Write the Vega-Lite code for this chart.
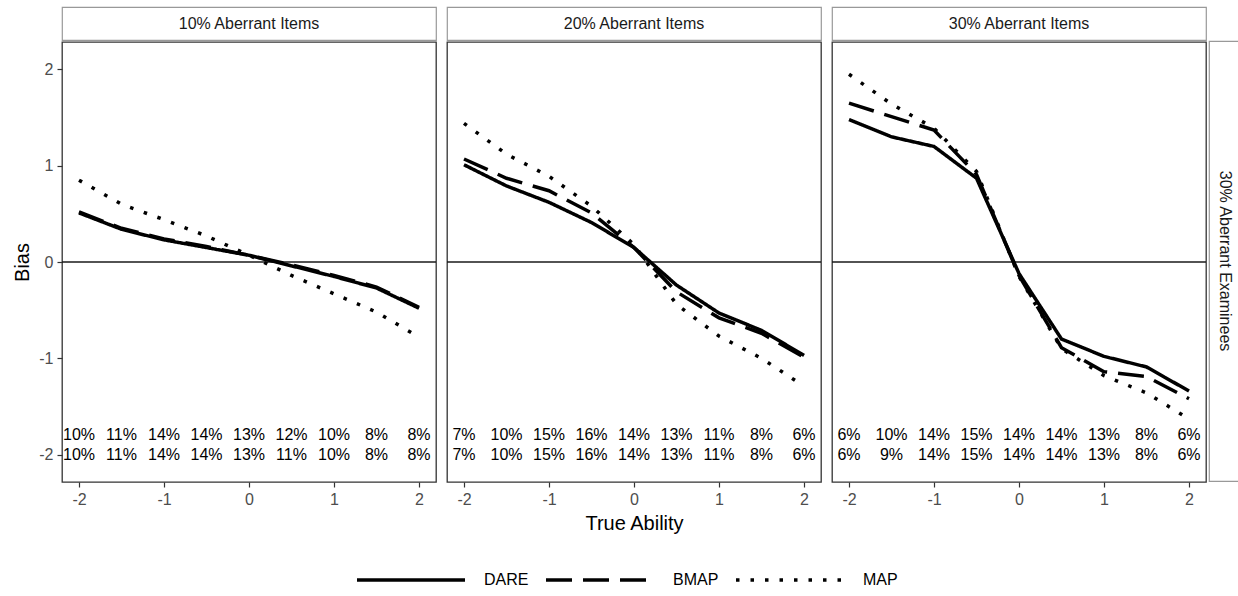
{
  "$schema": "https://vega.github.io/schema/vega-lite/v6.json",
  "padding": {"left": 12, "top": 6, "right": 0, "bottom": 0},
  "background": "white",
  "config": {
    "font": "Liberation Sans",
    "view": {"stroke": "#333333", "strokeWidth": 1.3},
    "axis": {"grid": false, "domain": false, "tickColor": "#333333", "tickSize": 5, "tickWidth": 1.2, "labelFontSize": 16, "labelColor": "#4d4d4d", "labelPadding": 4, "titleFontSize": 20, "titleFontWeight": "normal", "titleColor": "#000000", "titlePadding": 6, "labelExpr": "'' + datum.value"},
    "legend": {"orient": "bottom", "direction": "horizontal", "symbolType": "stroke", "symbolSize": 11664, "symbolStrokeWidth": 3.5, "symbolStrokeColor": "#000000", "labelFontSize": 16, "labelColor": "#000000", "labelOffset": 17, "columnPadding": 10, "offset": -10, "layout": {"bottom": {"anchor": "middle"}}}
  },
  "datasets": {
    "lines": [
      {"panel": "10% Aberrant Items", "method": "DARE", "ability": -2, "bias": 0.51},
      {"panel": "10% Aberrant Items", "method": "DARE", "ability": -1.5, "bias": 0.34},
      {"panel": "10% Aberrant Items", "method": "DARE", "ability": -1, "bias": 0.23},
      {"panel": "10% Aberrant Items", "method": "DARE", "ability": -0.5, "bias": 0.15},
      {"panel": "10% Aberrant Items", "method": "DARE", "ability": 0, "bias": 0.07},
      {"panel": "10% Aberrant Items", "method": "DARE", "ability": 0.5, "bias": -0.04},
      {"panel": "10% Aberrant Items", "method": "DARE", "ability": 1, "bias": -0.15},
      {"panel": "10% Aberrant Items", "method": "DARE", "ability": 1.5, "bias": -0.27},
      {"panel": "10% Aberrant Items", "method": "DARE", "ability": 2, "bias": -0.48},
      {"panel": "10% Aberrant Items", "method": "BMAP", "ability": -2, "bias": 0.52},
      {"panel": "10% Aberrant Items", "method": "BMAP", "ability": -1.5, "bias": 0.35},
      {"panel": "10% Aberrant Items", "method": "BMAP", "ability": -1, "bias": 0.24},
      {"panel": "10% Aberrant Items", "method": "BMAP", "ability": -0.5, "bias": 0.16},
      {"panel": "10% Aberrant Items", "method": "BMAP", "ability": 0, "bias": 0.07},
      {"panel": "10% Aberrant Items", "method": "BMAP", "ability": 0.5, "bias": -0.03},
      {"panel": "10% Aberrant Items", "method": "BMAP", "ability": 1, "bias": -0.14},
      {"panel": "10% Aberrant Items", "method": "BMAP", "ability": 1.5, "bias": -0.26},
      {"panel": "10% Aberrant Items", "method": "BMAP", "ability": 2, "bias": -0.47},
      {"panel": "10% Aberrant Items", "method": "MAP", "ability": -2, "bias": 0.85},
      {"panel": "10% Aberrant Items", "method": "MAP", "ability": -1.5, "bias": 0.6},
      {"panel": "10% Aberrant Items", "method": "MAP", "ability": -1, "bias": 0.44},
      {"panel": "10% Aberrant Items", "method": "MAP", "ability": -0.5, "bias": 0.27},
      {"panel": "10% Aberrant Items", "method": "MAP", "ability": 0, "bias": 0.07},
      {"panel": "10% Aberrant Items", "method": "MAP", "ability": 0.5, "bias": -0.14},
      {"panel": "10% Aberrant Items", "method": "MAP", "ability": 1, "bias": -0.33},
      {"panel": "10% Aberrant Items", "method": "MAP", "ability": 1.5, "bias": -0.52},
      {"panel": "10% Aberrant Items", "method": "MAP", "ability": 2, "bias": -0.78},
      {"panel": "20% Aberrant Items", "method": "DARE", "ability": -2, "bias": 1.01},
      {"panel": "20% Aberrant Items", "method": "DARE", "ability": -1.5, "bias": 0.79},
      {"panel": "20% Aberrant Items", "method": "DARE", "ability": -1, "bias": 0.62},
      {"panel": "20% Aberrant Items", "method": "DARE", "ability": -0.5, "bias": 0.41},
      {"panel": "20% Aberrant Items", "method": "DARE", "ability": 0, "bias": 0.15},
      {"panel": "20% Aberrant Items", "method": "DARE", "ability": 0.5, "bias": -0.24},
      {"panel": "20% Aberrant Items", "method": "DARE", "ability": 1, "bias": -0.53},
      {"panel": "20% Aberrant Items", "method": "DARE", "ability": 1.5, "bias": -0.71},
      {"panel": "20% Aberrant Items", "method": "DARE", "ability": 2, "bias": -0.97},
      {"panel": "20% Aberrant Items", "method": "BMAP", "ability": -2, "bias": 1.07},
      {"panel": "20% Aberrant Items", "method": "BMAP", "ability": -1.5, "bias": 0.87},
      {"panel": "20% Aberrant Items", "method": "BMAP", "ability": -1, "bias": 0.74},
      {"panel": "20% Aberrant Items", "method": "BMAP", "ability": -0.5, "bias": 0.51},
      {"panel": "20% Aberrant Items", "method": "BMAP", "ability": 0, "bias": 0.15},
      {"panel": "20% Aberrant Items", "method": "BMAP", "ability": 0.5, "bias": -0.31},
      {"panel": "20% Aberrant Items", "method": "BMAP", "ability": 1, "bias": -0.58},
      {"panel": "20% Aberrant Items", "method": "BMAP", "ability": 1.5, "bias": -0.74},
      {"panel": "20% Aberrant Items", "method": "BMAP", "ability": 2, "bias": -0.99},
      {"panel": "20% Aberrant Items", "method": "MAP", "ability": -2, "bias": 1.44},
      {"panel": "20% Aberrant Items", "method": "MAP", "ability": -1.5, "bias": 1.12},
      {"panel": "20% Aberrant Items", "method": "MAP", "ability": -1, "bias": 0.89},
      {"panel": "20% Aberrant Items", "method": "MAP", "ability": -0.5, "bias": 0.58},
      {"panel": "20% Aberrant Items", "method": "MAP", "ability": 0, "bias": 0.18},
      {"panel": "20% Aberrant Items", "method": "MAP", "ability": 0.5, "bias": -0.44},
      {"panel": "20% Aberrant Items", "method": "MAP", "ability": 1, "bias": -0.77},
      {"panel": "20% Aberrant Items", "method": "MAP", "ability": 1.5, "bias": -1.0},
      {"panel": "20% Aberrant Items", "method": "MAP", "ability": 2, "bias": -1.29},
      {"panel": "30% Aberrant Items", "method": "DARE", "ability": -2, "bias": 1.48},
      {"panel": "30% Aberrant Items", "method": "DARE", "ability": -1.5, "bias": 1.3},
      {"panel": "30% Aberrant Items", "method": "DARE", "ability": -1, "bias": 1.2},
      {"panel": "30% Aberrant Items", "method": "DARE", "ability": -0.5, "bias": 0.87},
      {"panel": "30% Aberrant Items", "method": "DARE", "ability": 0, "bias": -0.12},
      {"panel": "30% Aberrant Items", "method": "DARE", "ability": 0.5, "bias": -0.8},
      {"panel": "30% Aberrant Items", "method": "DARE", "ability": 1, "bias": -0.98},
      {"panel": "30% Aberrant Items", "method": "DARE", "ability": 1.5, "bias": -1.09},
      {"panel": "30% Aberrant Items", "method": "DARE", "ability": 2, "bias": -1.34},
      {"panel": "30% Aberrant Items", "method": "BMAP", "ability": -2, "bias": 1.65},
      {"panel": "30% Aberrant Items", "method": "BMAP", "ability": -1.5, "bias": 1.51},
      {"panel": "30% Aberrant Items", "method": "BMAP", "ability": -1, "bias": 1.37},
      {"panel": "30% Aberrant Items", "method": "BMAP", "ability": -0.5, "bias": 0.91},
      {"panel": "30% Aberrant Items", "method": "BMAP", "ability": 0, "bias": -0.14},
      {"panel": "30% Aberrant Items", "method": "BMAP", "ability": 0.5, "bias": -0.89},
      {"panel": "30% Aberrant Items", "method": "BMAP", "ability": 1, "bias": -1.14},
      {"panel": "30% Aberrant Items", "method": "BMAP", "ability": 1.5, "bias": -1.19},
      {"panel": "30% Aberrant Items", "method": "BMAP", "ability": 2, "bias": -1.42},
      {"panel": "30% Aberrant Items", "method": "MAP", "ability": -2, "bias": 1.95},
      {"panel": "30% Aberrant Items", "method": "MAP", "ability": -1.5, "bias": 1.64},
      {"panel": "30% Aberrant Items", "method": "MAP", "ability": -1, "bias": 1.39},
      {"panel": "30% Aberrant Items", "method": "MAP", "ability": -0.5, "bias": 0.94},
      {"panel": "30% Aberrant Items", "method": "MAP", "ability": 0, "bias": -0.15},
      {"panel": "30% Aberrant Items", "method": "MAP", "ability": 0.5, "bias": -0.9},
      {"panel": "30% Aberrant Items", "method": "MAP", "ability": 1, "bias": -1.18},
      {"panel": "30% Aberrant Items", "method": "MAP", "ability": 1.5, "bias": -1.36},
      {"panel": "30% Aberrant Items", "method": "MAP", "ability": 2, "bias": -1.63}
    ],
    "pct": [
      {"panel": "10% Aberrant Items", "ability": -2, "top": "10%", "bottom": "10%"},
      {"panel": "10% Aberrant Items", "ability": -1.5, "top": "11%", "bottom": "11%"},
      {"panel": "10% Aberrant Items", "ability": -1, "top": "14%", "bottom": "14%"},
      {"panel": "10% Aberrant Items", "ability": -0.5, "top": "14%", "bottom": "14%"},
      {"panel": "10% Aberrant Items", "ability": 0, "top": "13%", "bottom": "13%"},
      {"panel": "10% Aberrant Items", "ability": 0.5, "top": "12%", "bottom": "11%"},
      {"panel": "10% Aberrant Items", "ability": 1, "top": "10%", "bottom": "10%"},
      {"panel": "10% Aberrant Items", "ability": 1.5, "top": "8%", "bottom": "8%"},
      {"panel": "10% Aberrant Items", "ability": 2, "top": "8%", "bottom": "8%"},
      {"panel": "20% Aberrant Items", "ability": -2, "top": "7%", "bottom": "7%"},
      {"panel": "20% Aberrant Items", "ability": -1.5, "top": "10%", "bottom": "10%"},
      {"panel": "20% Aberrant Items", "ability": -1, "top": "15%", "bottom": "15%"},
      {"panel": "20% Aberrant Items", "ability": -0.5, "top": "16%", "bottom": "16%"},
      {"panel": "20% Aberrant Items", "ability": 0, "top": "14%", "bottom": "14%"},
      {"panel": "20% Aberrant Items", "ability": 0.5, "top": "13%", "bottom": "13%"},
      {"panel": "20% Aberrant Items", "ability": 1, "top": "11%", "bottom": "11%"},
      {"panel": "20% Aberrant Items", "ability": 1.5, "top": "8%", "bottom": "8%"},
      {"panel": "20% Aberrant Items", "ability": 2, "top": "6%", "bottom": "6%"},
      {"panel": "30% Aberrant Items", "ability": -2, "top": "6%", "bottom": "6%"},
      {"panel": "30% Aberrant Items", "ability": -1.5, "top": "10%", "bottom": "9%"},
      {"panel": "30% Aberrant Items", "ability": -1, "top": "14%", "bottom": "14%"},
      {"panel": "30% Aberrant Items", "ability": -0.5, "top": "15%", "bottom": "15%"},
      {"panel": "30% Aberrant Items", "ability": 0, "top": "14%", "bottom": "14%"},
      {"panel": "30% Aberrant Items", "ability": 0.5, "top": "14%", "bottom": "14%"},
      {"panel": "30% Aberrant Items", "ability": 1, "top": "13%", "bottom": "13%"},
      {"panel": "30% Aberrant Items", "ability": 1.5, "top": "8%", "bottom": "8%"},
      {"panel": "30% Aberrant Items", "ability": 2, "top": "6%", "bottom": "6%"}
    ]
  },
  "resolve": {"scale": {"strokeDash": "shared"}, "legend": {"strokeDash": "shared"}},
  "spacing": 0,
  "hconcat": [
    {
      "spacing": 7,
      "resolve": {"scale": {"strokeDash": "shared"}, "legend": {"strokeDash": "shared"}},
      "hconcat": [
        {
          "spacing": 0,
          "vconcat": [
            {"width": 374, "height": 33, "view": {"stroke": "#999999", "strokeWidth": 1.2, "fill": "#ffffff"}, "data": {"values": [{"label": "10% Aberrant Items"}]}, "mark": {"type": "text", "fontSize": 16, "color": "#1a1a1a", "baseline": "middle", "align": "center"}, "encoding": {"text": {"field": "label"}}},
            {
              "width": 374, "height": 440,
              "layer": [
                {"data": {"values": [{"z": 0}]}, "mark": {"type": "rule", "color": "#1a1a1a", "strokeWidth": 1.3}, "encoding": {"y": {"field": "z", "type": "quantitative", "scale": {"domain": [-2.285, 2.285], "nice": false, "zero": false}}}},
                {"data": {"name": "lines"}, "transform": [{"filter": "datum.panel === '10% Aberrant Items'"}], "mark": {"type": "line", "color": "#000000", "strokeWidth": 3.5, "strokeCap": "butt"},
                 "encoding": {
                   "x": {"field": "ability", "type": "quantitative", "scale": {"domain": [-2.2, 2.2], "nice": false, "zero": false}, "axis": {"values": [-2, -1, 0, 1, 2], "title": null}},
                   "y": {"field": "bias", "type": "quantitative", "scale": {"domain": [-2.285, 2.285], "nice": false, "zero": false}, "axis": {"values": [-2, -1, 0, 1, 2], "title": "Bias"}},
                   "strokeDash": {"field": "method", "type": "nominal", "scale": {"domain": ["DARE", "BMAP", "MAP"], "range": [[1, 0], [26, 11], [3.5, 11]]}, "legend": {"title": null}}
                 }},
                {"data": {"name": "pct"}, "transform": [{"filter": "datum.panel === '10% Aberrant Items'"}], "mark": {"type": "text", "fontSize": 16, "color": "#000000", "baseline": "middle"},
                 "encoding": {"x": {"field": "ability", "type": "quantitative"}, "y": {"datum": -1.8}, "text": {"field": "top"}}},
                {"data": {"name": "pct"}, "transform": [{"filter": "datum.panel === '10% Aberrant Items'"}], "mark": {"type": "text", "fontSize": 16, "color": "#000000", "baseline": "middle"},
                 "encoding": {"x": {"field": "ability", "type": "quantitative"}, "y": {"datum": -2.0}, "text": {"field": "bottom"}}}
              ]
            }
          ]
        },
        {
          "spacing": 0,
          "vconcat": [
            {"width": 374, "height": 33, "view": {"stroke": "#999999", "strokeWidth": 1.2, "fill": "#ffffff"}, "data": {"values": [{"label": "20% Aberrant Items"}]}, "mark": {"type": "text", "fontSize": 16, "color": "#1a1a1a", "baseline": "middle", "align": "center"}, "encoding": {"text": {"field": "label"}}},
            {
              "width": 374, "height": 440,
              "layer": [
                {"data": {"values": [{"z": 0}]}, "mark": {"type": "rule", "color": "#1a1a1a", "strokeWidth": 1.3}, "encoding": {"y": {"field": "z", "type": "quantitative", "scale": {"domain": [-2.285, 2.285], "nice": false, "zero": false}, "axis": null}}},
                {"data": {"name": "lines"}, "transform": [{"filter": "datum.panel === '20% Aberrant Items'"}], "mark": {"type": "line", "color": "#000000", "strokeWidth": 3.5, "strokeCap": "butt"},
                 "encoding": {
                   "x": {"field": "ability", "type": "quantitative", "scale": {"domain": [-2.2, 2.2], "nice": false, "zero": false}, "axis": {"values": [-2, -1, 0, 1, 2], "title": "True Ability"}},
                   "y": {"field": "bias", "type": "quantitative", "scale": {"domain": [-2.285, 2.285], "nice": false, "zero": false}, "axis": null},
                   "strokeDash": {"field": "method", "type": "nominal", "scale": {"domain": ["DARE", "BMAP", "MAP"], "range": [[1, 0], [26, 11], [3.5, 11]]}, "legend": {"title": null}}
                 }},
                {"data": {"name": "pct"}, "transform": [{"filter": "datum.panel === '20% Aberrant Items'"}], "mark": {"type": "text", "fontSize": 16, "color": "#000000", "baseline": "middle"},
                 "encoding": {"x": {"field": "ability", "type": "quantitative"}, "y": {"datum": -1.8, "axis": null}, "text": {"field": "top"}}},
                {"data": {"name": "pct"}, "transform": [{"filter": "datum.panel === '20% Aberrant Items'"}], "mark": {"type": "text", "fontSize": 16, "color": "#000000", "baseline": "middle"},
                 "encoding": {"x": {"field": "ability", "type": "quantitative"}, "y": {"datum": -2.0, "axis": null}, "text": {"field": "bottom"}}}
              ]
            }
          ]
        },
        {
          "spacing": 0,
          "vconcat": [
            {"width": 374, "height": 33, "view": {"stroke": "#999999", "strokeWidth": 1.2, "fill": "#ffffff"}, "data": {"values": [{"label": "30% Aberrant Items"}]}, "mark": {"type": "text", "fontSize": 16, "color": "#1a1a1a", "baseline": "middle", "align": "center"}, "encoding": {"text": {"field": "label"}}},
            {
              "width": 374, "height": 440,
              "layer": [
                {"data": {"values": [{"z": 0}]}, "mark": {"type": "rule", "color": "#1a1a1a", "strokeWidth": 1.3}, "encoding": {"y": {"field": "z", "type": "quantitative", "scale": {"domain": [-2.285, 2.285], "nice": false, "zero": false}, "axis": null}}},
                {"data": {"name": "lines"}, "transform": [{"filter": "datum.panel === '30% Aberrant Items'"}], "mark": {"type": "line", "color": "#000000", "strokeWidth": 3.5, "strokeCap": "butt"},
                 "encoding": {
                   "x": {"field": "ability", "type": "quantitative", "scale": {"domain": [-2.2, 2.2], "nice": false, "zero": false}, "axis": {"values": [-2, -1, 0, 1, 2], "title": null}},
                   "y": {"field": "bias", "type": "quantitative", "scale": {"domain": [-2.285, 2.285], "nice": false, "zero": false}, "axis": null},
                   "strokeDash": {"field": "method", "type": "nominal", "scale": {"domain": ["DARE", "BMAP", "MAP"], "range": [[1, 0], [26, 11], [3.5, 11]]}, "legend": {"title": null}}
                 }},
                {"data": {"name": "pct"}, "transform": [{"filter": "datum.panel === '30% Aberrant Items'"}], "mark": {"type": "text", "fontSize": 16, "color": "#000000", "baseline": "middle"},
                 "encoding": {"x": {"field": "ability", "type": "quantitative"}, "y": {"datum": -1.8, "axis": null}, "text": {"field": "top"}}},
                {"data": {"name": "pct"}, "transform": [{"filter": "datum.panel === '30% Aberrant Items'"}], "mark": {"type": "text", "fontSize": 16, "color": "#000000", "baseline": "middle"},
                 "encoding": {"x": {"field": "ability", "type": "quantitative"}, "y": {"datum": -2.0, "axis": null}, "text": {"field": "bottom"}}}
              ]
            }
          ]
        }
      ]
    },
    {
      "spacing": 0,
      "vconcat": [
        {"width": 32, "height": 33, "view": {"stroke": null}, "data": {"values": [{"label": ""}]}, "mark": {"type": "text"}, "encoding": {"text": {"field": "label"}}},
        {"width": 32, "height": 440, "view": {"stroke": "#999999", "strokeWidth": 1.2, "fill": "#ffffff"}, "data": {"values": [{"label": "30% Aberrant Examinees"}]}, "mark": {"type": "text", "fontSize": 16, "color": "#1a1a1a", "baseline": "middle", "align": "center", "angle": 90}, "encoding": {"text": {"field": "label"}}}
      ]
    }
  ]
}
